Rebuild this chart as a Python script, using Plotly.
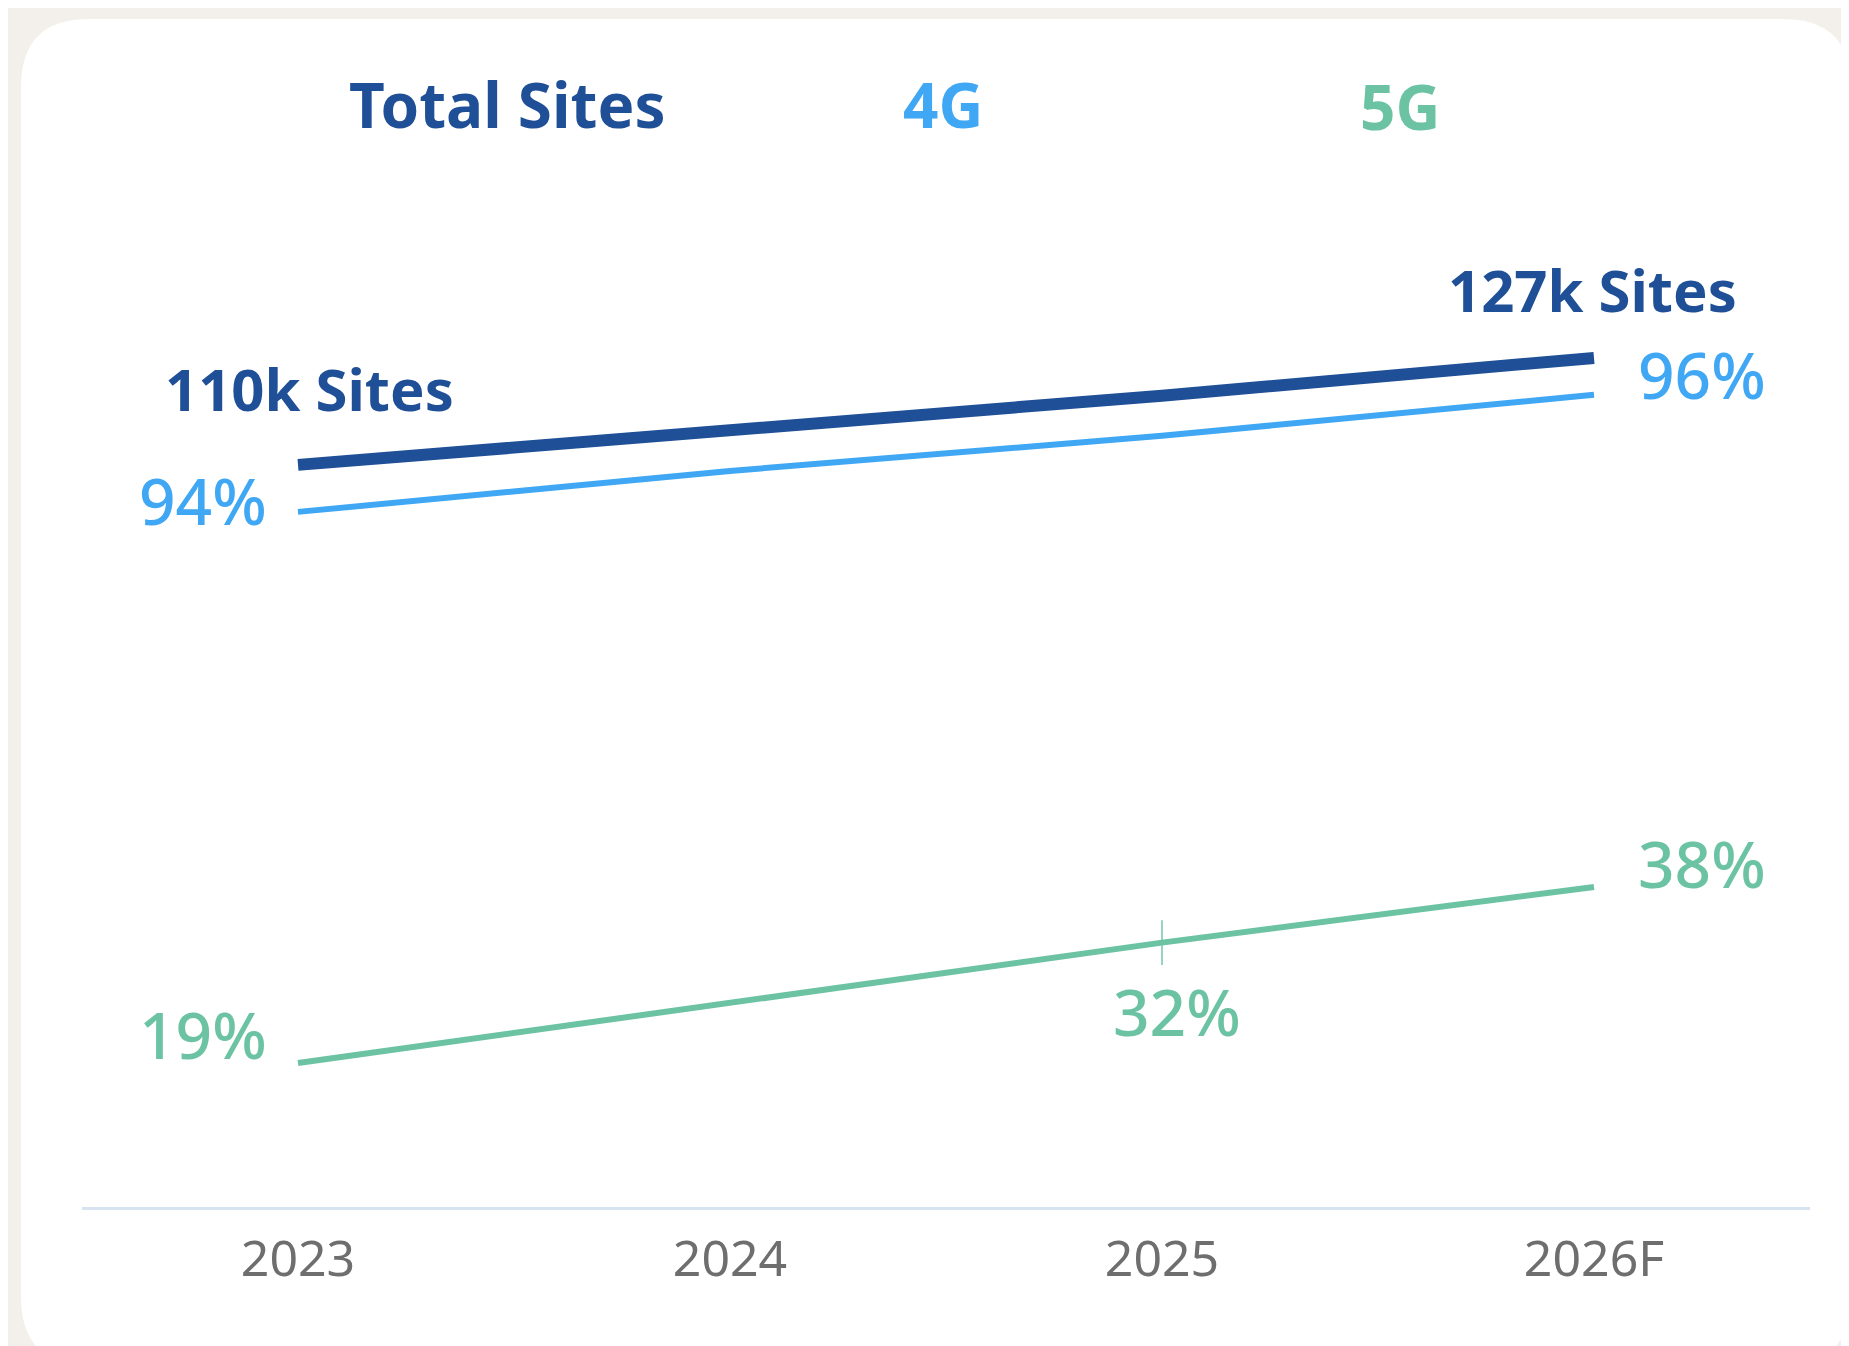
import plotly.graph_objects as go

# data
years = ["2023", "2024", "2025", "2026F"]
total_sites_k = [110, 115.5, 121, 127]
share_4g = [94, 94.7, 95.3, 96]
share_5g = [19, 25.5, 32, 38]

series_names = ["Total Sites", "4G", "5G"]

DARK = "#1f4f96"
LIGHT = "#3fa7f3"
GREEN = "#6cc3a3"
FONT = "Noto Sans"

# page offset (body margin) is 8px, so the figure is a bit smaller
OFF = 8
W, H = 1849 - OFF, 1346 - OFF
ML, MR, MT, MB = 82 - OFF, 39, 200 - OFF, 139
PW, PH = W - ML - MR, H - MT - MB


def px(x, y):
    # page pixel position -> paper coords
    return (x - OFF - ML) / PW, (H - MB - (y - OFF)) / PH


fig = go.Figure()

fig.add_trace(go.Scatter(
    x=years, y=share_5g, yaxis="y", mode="lines+markers",
    line=dict(color=GREEN, width=6),
    marker=dict(symbol="line-ns", size=[0, 0, 32, 0],
                line=dict(color=GREEN, width=2), color=GREEN),
    hoverinfo="skip", showlegend=False
))
fig.add_trace(go.Scatter(
    x=years, y=share_4g, yaxis="y2", mode="lines",
    line=dict(color=LIGHT, width=6),
    hoverinfo="skip", showlegend=False
))
fig.add_trace(go.Scatter(
    x=years, y=total_sites_k, yaxis="y3", mode="lines",
    line=dict(color=DARK, width=12),
    hoverinfo="skip", showlegend=False
))

ann = []


def lab(i, vals, yref, color, xanchor, xshift, yshift, bold=False, size=64):
    v = vals[i]
    t = f"{v:g}k Sites" if yref == "y3" else f"{v:g}%"
    ann.append(dict(
        x=i, y=v, xref="x", yref=yref, text=f"<b>{t}</b>" if bold else t,
        showarrow=False, xanchor=xanchor, yanchor="middle",
        xshift=xshift, yshift=yshift,
        font=dict(family=FONT, size=size, color=color, weight=700 if bold else 500)
    ))


lab(0, total_sites_k, "y3", DARK, "left", -135, 76, bold=True, size=58)
lab(3, total_sites_k, "y3", DARK, "right", 145, 68, bold=True, size=58)
lab(0, share_4g, "y2", LIGHT, "right", -29, 11)
lab(3, share_4g, "y2", LIGHT, "left", 42, 20)
lab(0, share_5g, "y", GREEN, "right", -29, 29)
lab(2, share_5g, "y", GREEN, "center", 15, -69)
lab(3, share_5g, "y", GREEN, "left", 42, 24)

# header labels
for name, cx, cy, col in zip(series_names, [507, 943, 1400], [104, 104, 106], [DARK, LIGHT, GREEN]):
    xp, yp = px(cx, cy)
    ann.append(dict(x=xp, y=yp, xref="paper", yref="paper", text=f"<b>{name}</b>",
                    showarrow=False, xanchor="center", yanchor="middle",
                    font=dict(family=FONT, size=62, color=col)))

# white rounded card
L, T, R, B, r = 21, 19, 1851, 1365, 68
pts = [("M", L + r, T), ("L", R - r, T), ("Q", R, T, R, T + r), ("L", R, B - r),
       ("Q", R, B, R - r, B), ("L", L + r, B), ("Q", L, B, L, B - r),
       ("L", L, T + r), ("Q", L, T, L + r, T)]
path = ""
for p in pts:
    cmd, coords = p[0], p[1:]
    parts = []
    for k in range(0, len(coords), 2):
        xp, yp = px(coords[k], coords[k + 1])
        parts.append(f"{xp:.5f},{yp:.5f}")
    path += cmd + " ".join(parts) + " "
path += "Z"

fig.update_layout(
    width=W, height=H,
    margin=dict(l=ML, r=MR, t=MT, b=MB),
    paper_bgcolor="#f3f0ec", plot_bgcolor="rgba(0,0,0,0)",
    shapes=[dict(type="path", path=path, xref="paper", yref="paper",
                 fillcolor="white", line=dict(width=0), layer="below")],
    annotations=ann,
    xaxis=dict(type="category", range=[-0.5, 3.5], showgrid=False, zeroline=False,
               showline=True, linecolor="#d6e4f2", linewidth=3,
               ticks="", ticklabelstandoff=6,
               tickfont=dict(family=FONT, size=50, color="#6e6e6e")),
    yaxis=dict(range=[3.45, 112.2], visible=False),
    yaxis2=dict(range=[82.12, 99.33], visible=False, overlaying="y"),
    yaxis3=dict(range=[-7.96, 152.1], visible=False, overlaying="y"),
    showlegend=False,
)

fig.write_html("out.html")
